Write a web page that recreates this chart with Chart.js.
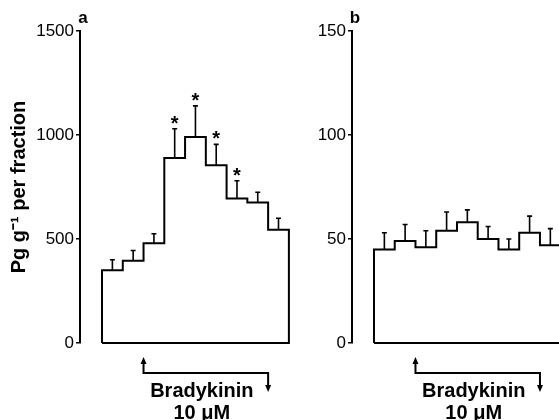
<!DOCTYPE html>
<html>
<head>
<meta charset="utf-8">
<script src="https://cdn.jsdelivr.net/npm/chart.js@4"></script>
<style>
  html, body { margin: 0; padding: 0; background: #fff; overflow: hidden; }
  .panel { position: absolute; top: 0; }
</style>
</head>
<body>
<div class="panel" style="left:0"><canvas id="chartA" width="300" height="420"></canvas></div>
<div class="panel" style="left:300px"><canvas id="chartB" width="280" height="420"></canvas></div>
<script>
// fractions collected (bar index 0..8)
const fractions = [1, 2, 3, 4, 5, 6, 7, 8, 9];

// panel a : pg g-1 per fraction
const meanA = [350, 395, 480, 890, 990, 855, 695, 675, 545];
const semA  = [50, 50, 45, 140, 150, 100, 85, 50, 55];
const starA = [false, false, false, true, true, true, true, false, false];
const ticksA = [0, 500, 1000, 1500];

// panel b
const meanB = [45, 49, 46, 54, 58, 50, 45, 53, 47];
const semB  = [8, 8, 8, 9, 6, 6, 5, 8, 8];
const starB = [false, false, false, false, false, false, false, false, false];
const ticksB = [0, 50, 100, 150];

// bradykinin applied from start of fraction 3 to start of fraction 9
const bkStart = 2;
const bkEnd = 8;

const FONT = "'Liberation Sans', Arial, sans-serif";

// outline of histogram: left edge, top steps, right edge, bottom
function stepPoints(means) {
  const pts = [{x: 0, y: 0}];
  means.forEach((v, i) => pts.push({x: i, y: v}));
  pts.push({x: means.length, y: means[means.length - 1]});
  pts.push({x: means.length, y: 0});
  pts.push({x: 0, y: 0});
  return pts;
}

const extras = {
  id: 'extras',
  afterDatasetsDraw(chart, args, o) {
    const ctx = chart.ctx;
    const xs = chart.scales.x, ys = chart.scales.y;
    ctx.save();
    ctx.strokeStyle = '#000';
    ctx.fillStyle = '#000';
    ctx.lineWidth = 1.6;
    o.means.forEach((m, i) => {
      const px = xs.getPixelForValue(i + 0.5);
      const y0 = ys.getPixelForValue(m);
      const y1 = ys.getPixelForValue(m + o.sems[i]);
      ctx.beginPath();
      ctx.moveTo(px, y0);
      ctx.lineTo(px, y1);
      ctx.moveTo(px - 2.5, y1);
      ctx.lineTo(px + 2.5, y1);
      ctx.stroke();
      if (o.stars[i]) {
        ctx.font = 'bold 20px ' + FONT;
        ctx.textAlign = 'center';
        ctx.textBaseline = 'alphabetic';
        ctx.fillText('*', px, y1 + 1);
      }
    });
    ctx.restore();
  },
  afterDraw(chart, args, o) {
    const ctx = chart.ctx;
    const xs = chart.scales.x;
    const area = chart.chartArea;
    ctx.save();
    ctx.fillStyle = '#000';
    ctx.strokeStyle = '#000';
    // panel letter
    ctx.font = 'bold 17px ' + FONT;
    ctx.textAlign = 'center';
    ctx.textBaseline = 'alphabetic';
    ctx.fillText(o.letter, area.left + o.letterDx, 23);

    // bradykinin bar with arrows
    const x1 = xs.getPixelForValue(bkStart);
    const x2 = xs.getPixelForValue(bkEnd);
    const yl = 373;
    ctx.lineWidth = 2;
    ctx.beginPath();
    ctx.moveTo(x1, 362);
    ctx.lineTo(x1, yl);
    ctx.lineTo(x2, yl);
    ctx.lineTo(x2, 386);
    ctx.stroke();
    ctx.beginPath();
    ctx.moveTo(x1, 357);
    ctx.lineTo(x1 - 3, 364);
    ctx.lineTo(x1 + 3, 364);
    ctx.closePath();
    ctx.fill();
    ctx.beginPath();
    ctx.moveTo(x2, 392);
    ctx.lineTo(x2 - 3, 385);
    ctx.lineTo(x2 + 3, 385);
    ctx.closePath();
    ctx.fill();

    const cx = (x1 + x2) / 2 - 4;
    ctx.font = 'bold 20px ' + FONT;
    ctx.fillText('Bradykinin', cx, 397);
    ctx.fillText('10 \u03bcM', cx, 419);
    ctx.restore();
  }
};

function makePanel(id, means, sems, stars, ticks, letter, axisW, xMin, xMax, padRight, title) {
  new Chart(document.getElementById(id), {
    type: 'line',
    data: {
      datasets: [{
        data: stepPoints(means),
        stepped: true,
        borderColor: '#000',
        borderWidth: 2,
        borderJoinStyle: 'miter',
        pointRadius: 0,
        fill: false,
        clip: false
      }]
    },
    options: {
      responsive: false,
      animation: false,
      layout: { padding: { top: 31, bottom: 77, left: 0, right: padRight } },
      plugins: {
        legend: { display: false },
        tooltip: { enabled: false },
        extras: { means: means, sems: sems, stars: stars, letter: letter, letterDx: 3 }
      },
      scales: {
        x: { type: 'linear', display: false, min: xMin, max: xMax },
        y: {
          min: 0,
          max: ticks[ticks.length - 1],
          afterBuildTicks: s => { s.ticks = ticks.map(v => ({value: v})); },
          afterFit: s => { s.width = axisW; },
          border: { display: true, color: '#000', width: 2 },
          grid: { drawOnChartArea: false, drawTicks: true, tickLength: 4, color: '#000', lineWidth: 1.5 },
          ticks: { color: '#000', padding: 2, font: { family: FONT, size: 17 }, callback: v => String(v) },
          title: {
            display: !!title,
            text: title || '',
            color: '#000',
            padding: { top: 7, bottom: 0 },
            font: { family: FONT, size: 20, weight: 'bold' }
          }
        }
      }
    },
    plugins: [extras]
  });
}

makePanel('chartA', meanA, semA, starA, ticksA, 'a', 80, -1.06, 9.15, 8, 'Pg g\u207b\u00b9 per fraction');
makePanel('chartB', meanB, semB, starB, ticksB, 'b', 52, -1.06, 9.93, 0, null);
</script>
</body>
</html>
